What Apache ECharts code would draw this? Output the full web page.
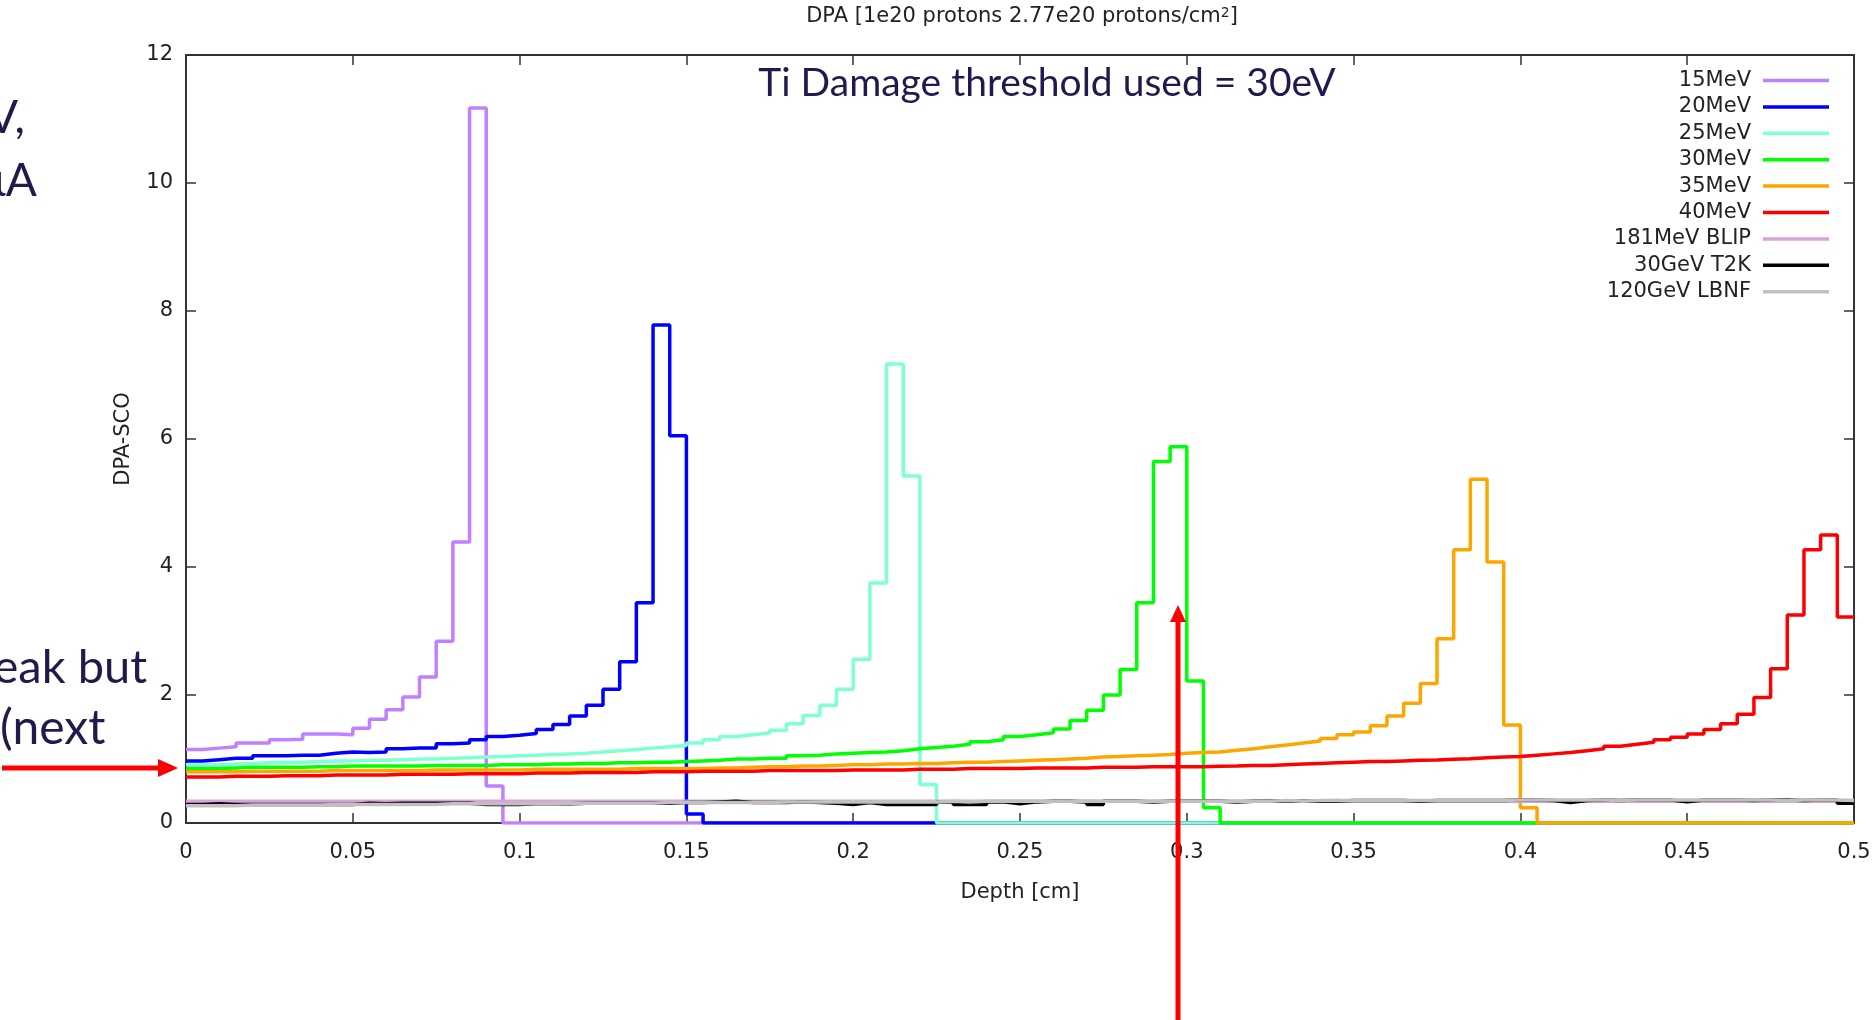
<!DOCTYPE html>
<html><head><meta charset="utf-8">
<script src="https://cdn.jsdelivr.net/npm/echarts/dist/echarts.min.js"></script>
<style>html,body{margin:0;padding:0;background:#fff;overflow:hidden}#chart{width:1874px;height:1020px}</style>
</head><body><div id="chart"></div>
<script>
// Depth bins: 100 bins of 0.005 cm from 0 to 0.5 cm
const BIN_WIDTH = 0.005;
const DEPTH_MAX = 0.5;

const SERIES_NAMES = ['15MeV','20MeV','25MeV','30MeV','35MeV','40MeV','181MeV BLIP','30GeV T2K','120GeV LBNF'];
const SERIES_COLORS = ['#c080ff','#0000ff','#7fffd4','#00ff00','#ffa500','#ff0000','#dda0dd','#000000','#c0c0c0'];

const dpa15MeV = [
 1.15,1.17,1.19,1.25,1.25,1.30,1.31,1.39,1.39,1.38, 1.48,1.62,1.77,1.97,2.28,2.84,4.39,11.17,0.58,0,
 0,0,0,0,0,0,0,0,0,0, 0,0,0,0,0,0,0,0,0,0, 0,0,0,0,0,0,0,0,0,0, 0,0,0,0,0,0,0,0,0,0,
 0,0,0,0,0,0,0,0,0,0, 0,0,0,0,0,0,0,0,0,0, 0,0,0,0,0,0,0,0,0,0, 0,0,0,0,0,0,0,0,0,0];
const dpa20MeV = [
 0.97,0.99,1.01,1.01,1.05,1.05,1.06,1.06,1.09,1.11, 1.10,1.11,1.16,1.17,1.17,1.24,1.25,1.30,1.35,1.37,
 1.40,1.46,1.54,1.67,1.84,2.09,2.52,3.44,7.78,6.05, 0.14,0,0,0,0,0,0,0,0,0,
 0,0,0,0,0,0,0,0,0,0, 0,0,0,0,0,0,0,0,0,0, 0,0,0,0,0,0,0,0,0,0, 0,0,0,0,0,0,0,0,0,0,
 0,0,0,0,0,0,0,0,0,0, 0,0,0,0,0,0,0,0,0,0];
const dpa25MeV = [
 0.91,0.91,0.92,0.93,0.94,0.95,0.95,0.96,0.97,0.97, 0.98,0.98,0.99,1.00,1.00,1.01,1.02,1.03,1.04,1.05,
 1.06,1.07,1.08,1.09,1.11,1.13,1.15,1.17,1.19,1.21, 1.25,1.30,1.35,1.38,1.41,1.45,1.55,1.68,1.84,2.09,
 2.56,3.75,7.17,5.42,0.60,0,0,0,0,0, 0,0,0,0,0,0,0,0,0,0, 0,0,0,0,0,0,0,0,0,0, 0,0,0,0,0,0,0,0,0,0,
 0,0,0,0,0,0,0,0,0,0, 0,0,0,0,0,0,0,0,0,0];
const dpa30MeV = [
 0.85,0.85,0.86,0.87,0.87,0.87,0.87,0.88,0.88,0.89, 0.89,0.89,0.89,0.89,0.90,0.90,0.90,0.90,0.91,0.91,
 0.91,0.92,0.92,0.93,0.93,0.94,0.94,0.95,0.95,0.96, 0.97,0.98,1.00,1.00,1.01,1.01,1.05,1.06,1.08,1.09,
 1.10,1.11,1.13,1.16,1.18,1.20,1.23,1.27,1.30,1.35, 1.38,1.41,1.47,1.60,1.76,2.00,2.40,3.44,5.65,5.88,
 2.22,0.24,0,0,0,0,0,0,0,0, 0,0,0,0,0,0,0,0,0,0, 0,0,0,0,0,0,0,0,0,0, 0,0,0,0,0,0,0,0,0,0];
const dpa35MeV = [
 0.80,0.80,0.80,0.81,0.81,0.81,0.81,0.81,0.82,0.82, 0.82,0.82,0.82,0.82,0.83,0.83,0.83,0.83,0.83,0.83,
 0.84,0.84,0.84,0.84,0.84,0.84,0.85,0.85,0.85,0.85, 0.85,0.86,0.86,0.87,0.88,0.88,0.89,0.89,0.90,0.91,
 0.91,0.92,0.92,0.93,0.93,0.94,0.95,0.95,0.96,0.97, 0.98,0.99,1.00,1.01,1.03,1.04,1.05,1.06,1.07,1.09,
 1.10,1.11,1.135,1.16,1.19,1.22,1.25,1.28,1.32,1.38, 1.42,1.52,1.67,1.87,2.18,2.88,4.27,5.37,4.08,1.53,
 0.24,0,0,0,0,0,0,0,0,0, 0,0,0,0,0,0,0,0,0,0];
const dpa40MeV = [
 0.72,0.72,0.73,0.73,0.73,0.74,0.74,0.74,0.75,0.75, 0.75,0.75,0.76,0.76,0.76,0.76,0.77,0.77,0.77,0.77,
 0.78,0.78,0.78,0.79,0.79,0.79,0.79,0.80,0.80,0.80, 0.81,0.81,0.81,0.81,0.82,0.82,0.82,0.82,0.82,0.83,
 0.83,0.83,0.83,0.84,0.84,0.84,0.85,0.85,0.85,0.85, 0.86,0.86,0.86,0.86,0.87,0.87,0.87,0.88,0.88,0.88,
 0.88,0.885,0.89,0.90,0.90,0.91,0.92,0.93,0.94,0.95, 0.96,0.96,0.97,0.98,0.985,0.995,1.005,1.02,1.03,1.04,
 1.06,1.08,1.10,1.13,1.16,1.20,1.23,1.26,1.30,1.34, 1.39,1.46,1.55,1.70,1.96,2.41,3.25,4.27,4.50,3.22];
const dpaBLIP = [
 0.34,0.34,0.34,0.34,0.34,0.34,0.34,0.34,0.34,0.34, 0.34,0.34,0.34,0.34,0.34,0.34,0.34,0.34,0.34,0.34,
 0.34,0.34,0.34,0.34,0.34,0.34,0.34,0.34,0.34,0.34, 0.34,0.34,0.34,0.34,0.34,0.34,0.34,0.34,0.34,0.34,
 0.34,0.34,0.34,0.34,0.34,0.34,0.34,0.34,0.34,0.34, 0.34,0.34,0.34,0.34,0.34,0.34,0.34,0.34,0.34,0.34,
 0.34,0.34,0.34,0.34,0.35,0.34,0.34,0.34,0.35,0.34, 0.34,0.34,0.34,0.34,0.34,0.34,0.34,0.34,0.34,0.34,
 0.34,0.34,0.34,0.34,0.34,0.34,0.34,0.34,0.34,0.34, 0.34,0.34,0.34,0.34,0.34,0.34,0.34,0.34,0.34,0.34];
const dpaT2K = [
 0.29,0.30,0.29,0.29,0.29,0.29,0.29,0.29,0.29,0.29, 0.31,0.30,0.31,0.31,0.31,0.31,0.31,0.29,0.29,0.29,
 0.30,0.30,0.30,0.31,0.31,0.31,0.31,0.31,0.31,0.32, 0.32,0.33,0.34,0.32,0.32,0.32,0.33,0.32,0.31,0.29,
 0.32,0.29,0.29,0.29,0.29,0.33,0.29,0.29,0.33,0.30, 0.33,0.34,0.34,0.33,0.29,0.34,0.34,0.33,0.34,0.34,
 0.34,0.34,0.33,0.34,0.34,0.34,0.34,0.34,0.34,0.35, 0.35,0.35,0.35,0.34,0.35,0.35,0.35,0.35,0.35,0.36,
 0.36,0.35,0.32,0.35,0.36,0.35,0.36,0.36,0.36,0.33, 0.36,0.36,0.36,0.35,0.36,0.36,0.35,0.36,0.36,0.31];
const dpaLBNF = [
 0.27,0.27,0.27,0.28,0.28,0.28,0.28,0.28,0.29,0.29, 0.29,0.29,0.29,0.29,0.29,0.30,0.30,0.30,0.30,0.30,
 0.30,0.30,0.31,0.31,0.31,0.31,0.31,0.31,0.32,0.32, 0.32,0.32,0.32,0.32,0.32,0.33,0.33,0.33,0.33,0.33,
 0.33,0.33,0.33,0.33,0.33,0.34,0.33,0.34,0.34,0.34, 0.34,0.34,0.34,0.34,0.34,0.34,0.34,0.34,0.34,0.34,
 0.34,0.34,0.34,0.34,0.34,0.35,0.34,0.35,0.35,0.35, 0.35,0.35,0.35,0.35,0.35,0.35,0.35,0.35,0.35,0.36,
 0.36,0.36,0.36,0.36,0.36,0.35,0.36,0.36,0.36,0.36, 0.36,0.36,0.36,0.36,0.36,0.35,0.36,0.36,0.36,0.35];

const SERIES_VALUES = [dpa15MeV, dpa20MeV, dpa25MeV, dpa30MeV, dpa35MeV, dpa40MeV, dpaBLIP, dpaT2K, dpaLBNF];

const TITLE_MAIN = 'DPA [1e20 protons 2.77e20 protons/cm';
const TITLE_SUP = '2';
const TITLE_END = ']';
const NOTE = 'Ti Damage threshold used = 30eV';

// histogram steps: each bin starts at its left edge; last bin closed at DEPTH_MAX
function toSteps(vals) {
  const pts = vals.map((v, i) => [+(i * BIN_WIDTH).toFixed(4), v]);
  pts.push([DEPTH_MAX, vals[vals.length - 1]]);
  return pts;
}

const FONT = 'DejaVu Sans';
const FS = 21;
const TXT = '#222';
const AX = '#333';
const SLIDE = '#1f1c4d';

const chart = echarts.init(document.getElementById('chart'), null, {renderer: 'canvas'});

const series = SERIES_NAMES.map((name, i) => ({
  name, type: 'line', step: 'end', showSymbol: false, symbol: 'none',
  data: toSteps(SERIES_VALUES[i]),
  lineStyle: {color: SERIES_COLORS[i], width: 3.5},
  itemStyle: {color: SERIES_COLORS[i]},
  xAxisIndex: 0, yAxisIndex: 0, clip: true, silent: true
}));

const axisCommon = {
  axisLine: {show: true, onZero: false, lineStyle: {color: AX, width: 2}},
  axisTick: {show: true, inside: true, length: 10, lineStyle: {color: AX, width: 1.5}},
  splitLine: {show: false}
};

chart.setOption({
  animation: false,
  backgroundColor: '#fff',
  grid: {left: 186, right: 20, top: 55, bottom: 197, containLabel: false},
  legend: {
    orient: 'vertical', right: 45, top: 70, align: 'right', padding: 0,
    itemWidth: 66, itemHeight: 3.5, itemGap: 5.4, icon: 'rect', selectedMode: false,
    textStyle: {fontFamily: FONT, fontSize: FS, color: TXT, lineHeight: 20, padding: [0, 7, 0, 0]}
  },
  xAxis: [
    Object.assign({type: 'value', min: 0, max: DEPTH_MAX, interval: 0.05, position: 'bottom',
      name: 'Depth [cm]', nameLocation: 'middle', nameGap: 59,
      nameTextStyle: {fontFamily: FONT, fontSize: FS, color: TXT},
      axisLabel: {margin: 19, fontFamily: FONT, fontSize: FS, color: TXT,
        formatter: v => String(+(+v).toFixed(2))}}, axisCommon),
    Object.assign({type: 'value', min: 0, max: DEPTH_MAX, interval: 0.05, position: 'top',
      axisLabel: {show: false}}, axisCommon)
  ],
  yAxis: [
    Object.assign({type: 'value', min: 0, max: 12, interval: 2, position: 'left',
      name: 'DPA-SCO', nameLocation: 'middle', nameGap: 52,
      nameTextStyle: {fontFamily: FONT, fontSize: FS, color: TXT},
      axisLabel: {margin: 13, fontFamily: FONT, fontSize: FS, color: TXT}}, axisCommon),
    Object.assign({type: 'value', min: 0, max: 12, interval: 2, position: 'right',
      axisLabel: {show: false}}, axisCommon)
  ],
  series,
  graphic: [
    {type: 'text', z: 100, style: {
      text: '{m|' + TITLE_MAIN + '}{s|' + TITLE_SUP + '}{m|' + TITLE_END + '}',
      x: 1022, y: 17, align: 'center', verticalAlign: 'middle',
      rich: {m: {fontFamily: FONT, fontSize: FS, fill: TXT, color: TXT},
             s: {fontFamily: FONT, fontSize: 14, fill: TXT, color: TXT, verticalAlign: 'top', padding: [0, 0, 8, 0]}}}},
    {type: 'text', z: 100, style: {text: NOTE, x: 1047, y: 83, align: 'center', verticalAlign: 'middle',
      font: '39px Lato', fill: SLIDE}},
    {type: 'text', z: 100, style: {text: 'MeV,', x: 25, y: 118, align: 'right', verticalAlign: 'middle', font: '46px Lato', fill: SLIDE}},
    {type: 'text', z: 100, style: {text: 'μA', x: 37, y: 181, align: 'right', verticalAlign: 'middle', font: '46px Lato', fill: SLIDE}},
    {type: 'text', z: 100, style: {text: 'eak but', x: 147, y: 668, align: 'right', verticalAlign: 'middle', font: '47px Lato', fill: SLIDE}},
    {type: 'text', z: 100, style: {text: '(next', x: 0, y: 729, align: 'left', verticalAlign: 'middle', font: '48px Lato', fill: SLIDE}},
    // horizontal red arrow
    {type: 'line', z: 100, shape: {x1: 2, y1: 768, x2: 162, y2: 768}, style: {stroke: '#ff0000', lineWidth: 5}},
    {type: 'polygon', z: 100, shape: {points: [[158, 759], [178, 768], [158, 777]]}, style: {fill: '#ff0000'}},
    // vertical red arrow
    {type: 'line', z: 100, shape: {x1: 1178, y1: 1020, x2: 1178, y2: 618}, style: {stroke: '#ff0000', lineWidth: 5}},
    {type: 'polygon', z: 100, shape: {points: [[1170, 622], [1178, 605], [1186, 622]]}, style: {fill: '#ff0000'}}
  ]
});
</script></body></html>
